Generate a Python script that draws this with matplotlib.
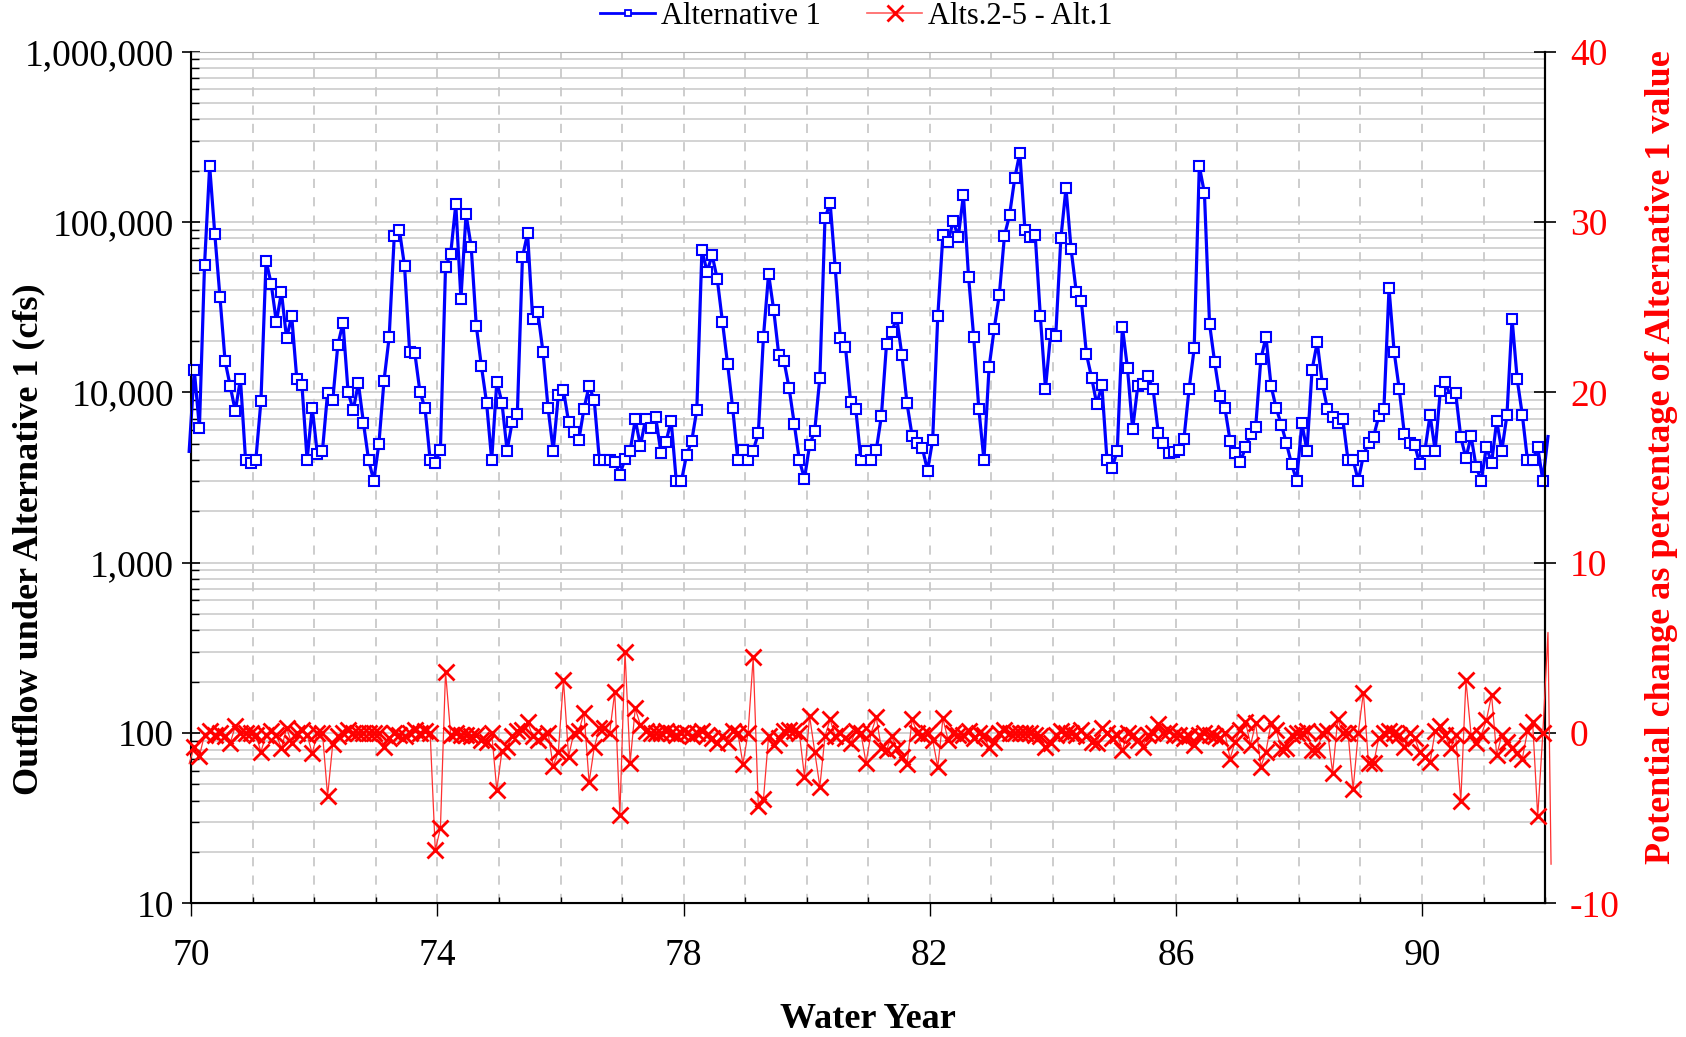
import matplotlib.pyplot as plt
import matplotlib.ticker as mticker
from matplotlib.lines import Line2D
import numpy as np

plt.rcParams['font.family'] = ['Liberation Serif', 'DejaVu Serif']
plt.rcParams['axes.unicode_minus'] = False

# monthly outflow under Alternative 1 (cfs), water years 70-92
alt1_flow = [
    13500, 6200, 56000, 213000, 85000, 36500, 15300, 10900, 7760, 12000, 4000, 3830,
    4000, 8900, 59300, 43300, 25900, 38600, 20700, 28000, 11900, 11000, 4000, 8130,
    4350, 4550, 9960, 9000, 19000, 25600, 10000, 7880, 11300, 6580, 4000, 3030,
    4980, 11700, 21000, 82800, 89800, 55200, 17300, 17100, 10100, 8060, 4000, 3860,
    4580, 54700, 64900, 127000, 35500, 111000, 71700, 24500, 14200, 8700, 4000, 11550,
    8700, 4550, 6700, 7460, 62100, 85800, 26800, 29500, 17300, 8060, 4550, 9600,
    10300, 6700, 5850, 5250, 8020, 10900, 8980, 4000, 4000, 4000, 3920, 3290,
    4060, 4530, 6940, 4840, 6940, 6200, 7130, 4420, 5130, 6820, 3010, 3010,
    4290, 5150, 7880, 68500, 51100, 63900, 46000, 25900, 14700, 8090, 4000, 4580,
    4000, 4550, 5740, 21200, 49600, 30400, 16500, 15300, 10600, 6550, 4000, 3110,
    4890, 5960, 12200, 105000, 130000, 53700, 20800, 18400, 8810, 8020, 4000, 4500,
    4000, 4580, 7260, 19200, 22700, 27400, 16500, 8600, 5540, 5020, 4690, 3470,
    5250, 28000, 84000, 76700, 101000, 82000, 144000, 47700, 21200, 8020, 4000, 14000,
    23600, 37400, 82800, 110000, 180000, 255000, 89800, 81300, 83600, 28000, 10500, 22000,
    21400, 80200, 158000, 69100, 39000, 34200, 16700, 12200, 8530, 11000, 4000, 3610,
    4530, 24300, 13800, 6060, 10900, 11200, 12400, 10400, 5800, 5020, 4390, 4480,
    4580, 5320, 10400, 18100, 213000, 148000, 25200, 15000, 9500, 8060, 5200, 4390,
    3890, 4750, 5690, 6280, 15600, 21200, 10900, 8060, 6460, 5020, 3780, 3030,
    6580, 4550, 13600, 19700, 11200, 7950, 7130, 6640, 6940, 4000, 4000, 3030,
    4250, 5070, 5500, 7260, 7950, 40800, 17300, 10400, 5660, 5070, 4910, 3790,
    4550, 7360, 4550, 10200, 11500, 9300, 9870, 5450, 4100, 5540, 3630, 3030,
    4800, 3830, 6800, 4550, 7360, 27000, 11900, 7360, 4000, 4000, 4750, 3030,
]

# Alts.2-5 minus Alt.1, percent of Alternative 1 value
pct_change = [
    -0.8, -1.35, -0.1, 0.1, -0.1, 0, -0.2, -0.6, 0.4, 0, 0, 0,
    -0.1, -1.1, -0.1, 0.1, -0.1, -0.9, 0.3, -0.6, 0, 0.2, -0.1, -1.2,
    0, 0, -3.7, -0.65, -0.2, 0, 0.2, 0, 0, 0, 0, 0,
    0, -0.8, -0.3, 0, -0.1, -0.2, 0, 0.2, 0, 0.1, 0, -6.87,
    -5.6, 3.6, -0.1, 0, -0.1, -0.1, -0.2, -0.1, -0.4, -0.5, 0, -3.35,
    -1.05, -0.8, -0.2, 0.1, 0.2, 0.67, -0.2, -0.4, -0.2, 0, -1.94, -1.1,
    3.1, -1.4, 0, 0.1, 1.2, -2.9, -0.85, 0.27, 0.3, 0, 2.4, -4.8,
    4.77, -1.74, 1.45, 0.47, 0.1, 0, 0, 0, 0.1, 0, -0.1, 0,
    0, -0.2, 0, 0.1, -0.1, -0.3, -0.6, -0.2, -0.5, 0.1, 0, -1.8,
    0, 4.44, -4.3, -3.9, -0.2, -0.7, -0.3, 0.1, 0.2, 0.1, 0, -2.56,
    1.0, -1.1, -3.15, -0.2, 0.8, -0.2, 0, -0.3, -0.6, 0.1, 0, -1.74,
    0, 0.92, -0.9, -1.0, -0.2, -0.9, -1.4, -1.82, 0.8, 0, -0.1, 0,
    -0.4, -2.0, 0.86, -0.4, 0, -0.1, -0.1, 0.1, -0.3, 0, -0.1, -0.9,
    -0.5, 0, 0.2, 0, 0, 0, 0, 0, -0.1, -0.2, -0.8, -0.6,
    -0.1, 0.1, 0, 0, -0.1, 0.2, -0.2, -0.5, -0.6, 0.3, 0, -0.3,
    -0.1, -1.0, 0, -0.1, -0.4, -0.8, -0.1, 0, 0.5, 0, 0.1, -0.1,
    -0.1, -0.3, -0.2, -0.7, -0.1, 0, -0.1, -0.2, -0.3, 0, -1.5, -0.5,
    0.2, 0.67, -0.7, 0.57, -1.98, -1.1, 0.6, 0.2, -0.96, -0.9, -0.1, 0,
    0, 0.1, -1.0, -1.0, 0, 0.1, -2.33, 0.8, 0, 0, -3.3, 0,
    2.37, -1.78, -1.78, -0.3, 0, 0.1, 0, -0.1, -0.8, 0, -0.3, -1.1,
    -1.4, -1.7, 0.1, 0.4, -0.1, -0.9, -0.1, -4.0, 3.1, -0.1, -0.6, -0.1,
    0.76, 2.23, -1.3, -0.1, -0.5, -0.9, -1.2, -1.5, 0.1, 0.67, -4.9, 0,
]

# partial values just outside the plotted years (line only, no marker)
flow_before, flow_after = 4500, 5500
pct_before = -1.8
pct_after = [5.9, -7.7]

year_ticks = [70, 74, 78, 82, 86, 90]

n = len(alt1_flow)
x = 70 + (np.arange(n) + 0.57) / 12.0
x_b = 70 + (-1 + 0.57) / 12.0
x_a = 70 + (n + 0.57) / 12.0

fig = plt.figure(figsize=(16.86, 10.37), dpi=100)
ax = fig.add_axes([0.1135, 0.1289, 0.8029, 0.8213])

ax.plot(np.r_[x_b, x, x_a], np.r_[flow_before, alt1_flow, flow_after],
        color='#0000ff', lw=2.3, clip_on=False, zorder=3)
ax.plot(x, alt1_flow, ls='none', marker='s', ms=6.5, mfc='white',
        mec='#0000ff', mew=1.5, clip_on=False, zorder=4)

ax.set_yscale('log')
ax.set_ylim(10, 1e6)
ax.set_xlim(70, 92)
ax.set_xticks(year_ticks)
ax.xaxis.set_minor_locator(mticker.MultipleLocator(1))
ax.yaxis.set_major_formatter(mticker.FuncFormatter(lambda v, p: f'{v:,.0f}'))
ax.yaxis.set_minor_formatter(mticker.NullFormatter())

ax.grid(axis='y', which='both', color='#c8c8c8', lw=1.1, ls='-')
ax.grid(axis='x', which='both', color='#c0c0c0', lw=1.1, ls=(0, (6, 6)))
ax.set_axisbelow(True)

ax.tick_params(axis='y', which='major', direction='inout', length=13, width=1.2,
               pad=6, labelsize=27)
ax.tick_params(axis='y', which='minor', direction='in', length=6, width=1)
ax.tick_params(axis='x', which='major', direction='out', length=9, width=1,
               pad=16, labelsize=27)
ax.tick_params(axis='x', which='minor', direction='in', length=4, width=1)
for s in ['left', 'bottom', 'right']:
    ax.spines[s].set_linewidth(1.5)
ax.spines['top'].set_color('#b0b0b0')

ax.set_xlabel('Water Year', fontsize=26, fontweight='bold')
ax.xaxis.set_label_coords(0.5, -0.136)
ax.xaxis.label.set_va('center')
ax.set_ylabel('Outflow under Alternative 1 (cfs)', fontsize=26, fontweight='bold')
ax.yaxis.set_label_coords(-0.12, 0.427)
ax.yaxis.label.set_va('center')

ax2 = ax.twinx()
ax2.plot(np.r_[x_b, x, x_a, x_a + 0.05], np.r_[pct_before, pct_change, pct_after],
         color='#ff3030', lw=0.9, clip_on=False, zorder=3)
ax2.plot(x, pct_change, ls='none', marker='x', ms=11, mec='#ff0000', mew=2.0,
         clip_on=False, zorder=4)
ax2.set_ylim(-10, 40)
ax2.yaxis.set_major_locator(mticker.MultipleLocator(10))
ax2.tick_params(axis='y', direction='inout', length=16, width=1.2, pad=10,
                labelsize=27, labelcolor='red')
ax2.spines['right'].set_linewidth(1.5)
ax2.spines['top'].set_visible(False)
ax2.set_ylabel('Potential change as percentage of Alternative 1 value',
               fontsize=26, fontweight='bold', color='red', rotation=90)
ax2.yaxis.set_label_coords(1.0857, 0.524)
ax2.yaxis.label.set_va('center')

handles = [
    Line2D([], [], color='#0000ff', lw=2, marker='s', ms=5, mfc='white', mec='#0000ff', mew=1.3),
    Line2D([], [], color='#ff6060', lw=1.2, marker='x', ms=11, mec='#ff0000', mew=2.0),
]
fig.legend(handles, ['Alternative 1', 'Alts.2-5 - Alt.1'], loc='center',
           bbox_to_anchor=(0.508, 1 - 16 / 1037), ncol=2, frameon=False,
           fontsize=22, handlelength=1.8, handletextpad=0.2, columnspacing=1.5)

fig.savefig('out.png', dpi=100)
